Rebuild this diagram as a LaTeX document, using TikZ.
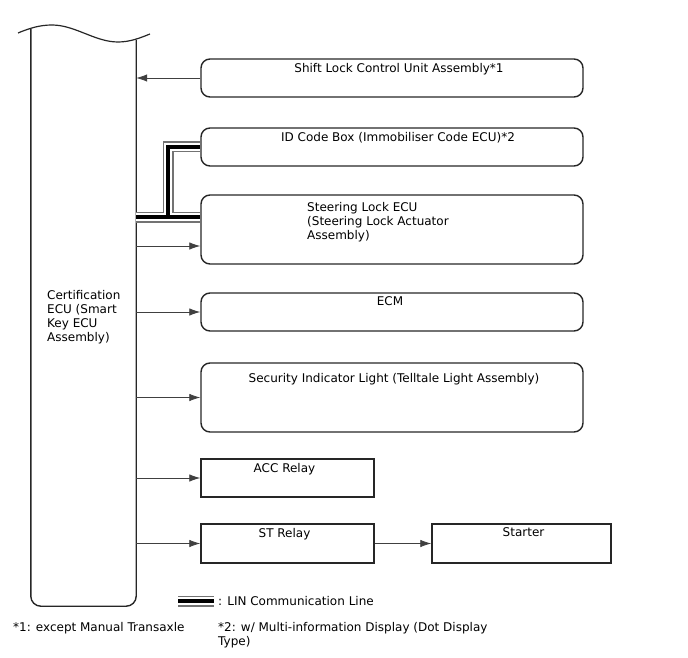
\documentclass[tikz,border=0pt]{standalone}
\usepackage{fontspec}
\setmainfont{DejaVu Sans}
\usepackage{tikz}
\usetikzlibrary{arrows.meta}
\usetikzlibrary{positioning}

\begin{document}
\begin{tikzpicture}
    [
    x=1pt,y=-1pt,
    every node/.style={font=\fontsize{12}{14}\selectfont},
    unit/.style={draw=black!85,line width=1.4pt,rounded corners=9pt,inner sep=0pt,minimum width=382pt},
    relay/.style={draw=black!85,line width=1.4pt,inner sep=0pt},
    sig/.style={draw=black!75,line width=0.8pt,-{Latex[length=11pt,width=7.5pt]}},
    tag/.style={anchor=north,inner sep=0pt,yshift=-4.5pt},
    lin/.style={line width=11pt,draw=black!55},
    linw/.style={line width=8.6pt,draw=white},
    linb/.style={line width=3.4pt,draw=black},
    ]
    \useasboundingbox (0,0) rectangle (688,658);

    % certification ECU (cut off at the top)
    \node (ecu) at (83.5,323) [inner sep=0pt,minimum width=105pt,minimum height=566pt] {};
    \draw [black!85,line width=1.4pt,rounded corners=10pt]
      ([yshift=11pt]ecu.north west) -- (ecu.south west) -- (ecu.south east) -- (ecu.north east);
    \draw [black!85,line width=1.2pt]
      (18,33) .. controls (30,28) and (40,25) .. (52,25)
      .. controls (75,25) and (95,42) .. (118,42)
      .. controls (130,42) and (140,38) .. (150,34);
    \node (ecutext) at (47,290) [anchor=north west,inner sep=0pt,align=left]
      {Certification\\ECU (Smart\\Key ECU\\Assembly)};

    % units
    \node (b1) at (392,78) [unit,minimum height=38pt,label={[tag,xshift=7pt]north:Shift Lock Control Unit Assembly*1}] {};
    \node (b2) at (392,147) [unit,minimum height=38pt,label={[tag,xshift=6pt]north:ID Code Box (Immobiliser Code ECU)*2}] {};
    \node (b3) at (392,229.5) [unit,minimum height=69pt] {};
    \node (t3) at (307,202) [anchor=north west,inner sep=0pt,align=left]
      {Steering Lock ECU\\(Steering Lock Actuator\\Assembly)};
    \node (b4) at (392,312) [unit,minimum height=38pt,label={[tag,xshift=-2pt]north:ECM}] {};
    \node (b5) at (392,397.5) [unit,minimum height=69pt,label={[tag,xshift=2pt,yshift=-6pt]north:Security Indicator Light (Telltale Light Assembly)}] {};
    \node (b6) at (287.5,478) [relay,minimum width=173pt,minimum height=38pt,label={[tag,xshift=-3pt]north:ACC Relay}] {};
    \node (b7) at (287.5,543.5) [relay,minimum width=173pt,minimum height=39pt,label={[tag,xshift=-3pt]north:ST Relay}] {};
    \node (b8) at (521.5,543.5) [relay,minimum width=179pt,minimum height=39pt,label={[tag,xshift=2pt]north:Starter}] {};

    % signal lines
    \draw [sig] (b1.west) to (b1.west -| ecu.east);
    \coordinate (a3) at ([yshift=-16.5pt]b3.west);
    \draw [sig] (a3 -| ecu.east) to (a3);
    \draw [sig] (b4.west -| ecu.east) to (b4.west);
    \draw [sig] (b5.west -| ecu.east) to (b5.west);
    \draw [sig] (b6.west -| ecu.east) to (b6.west);
    \draw [sig] (b7.west -| ecu.east) to (b7.west);
    \draw [sig] (b7.east) to (b8.west);

    % LIN communication line
    \coordinate (l1) at ([yshift=12.5pt]b3.west);
    \coordinate (l2) at (168,0);
    \foreach \s in {lin,linw,linb} {
      \draw [\s] (l1 -| ecu.east) to (l1);
      \draw [\s] (l1 -| l2) -- (b2.west -| l2) -- (b2.west);
    }

    % legend and notes
    \coordinate (g1) at (178,601);
    \coordinate (g2) at (214,601);
    \foreach \s in {lin,linw,linb} {
      \draw [\s] (g1) to (g2);
    }
    \node (leg) at (218,601) [anchor=west,inner sep=0pt] {: LIN Communication Line};
    \node (n1) at (13,622) [anchor=north west,inner sep=0pt] {*1: except Manual Transaxle};
    \node (n2) at (218,622) [anchor=north west,inner sep=0pt,align=left]
      {*2: w/ Multi-information Display (Dot Display\\Type)};
  \end{tikzpicture}
\end{document}
